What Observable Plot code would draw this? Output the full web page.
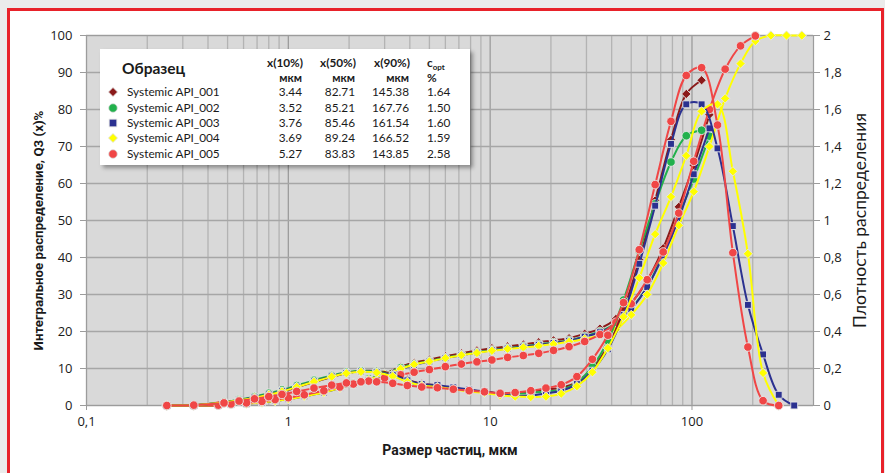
<!DOCTYPE html>
<html><head><meta charset="utf-8">
<script src="https://cdn.jsdelivr.net/npm/d3@7"></script>
<script src="https://cdn.jsdelivr.net/npm/@observablehq/plot@0.6"></script>
<style>
html,body{margin:0;padding:0;background:#ebebeb;width:885px;height:473px;overflow:hidden;}
#card{position:absolute;left:7px;top:8px;width:871px;height:480px;border:3px solid #e8222a;background:#fff;}
#chart{position:absolute;left:0;top:0;}
#legend{position:absolute;left:100px;top:49px;width:370px;height:116px;background:#fff;box-shadow:3px 3px 4px rgba(0,0,0,0.35);font-family:Lato,"Open Sans",sans-serif;color:#1a1a1a;}
#legend span{position:absolute;white-space:nowrap;line-height:14px;}
#legend svg{position:absolute;}
</style></head>
<body>
<div id="card"></div>
<div id="chart"></div>
<div id="legend"></div>
<script>
// ---- data ----
const seriesNames = ["Systemic API_001","Systemic API_002","Systemic API_003","Systemic API_004","Systemic API_005"];
const x10 = [3.44, 3.52, 3.76, 3.69, 5.27];
const x50 = [82.71, 85.21, 85.46, 89.24, 83.83];
const x90 = [145.38, 167.76, 161.54, 166.52, 143.85];
const copt = [1.64, 1.50, 1.60, 1.59, 2.58];

// particle size (µm): upper class edges (cumulative) and class centres (density)
const cumX = [0.25,0.34,0.45,0.52,0.62,0.74,0.86,1.0,1.2,1.5,1.8,2.1,2.5,3.0,3.6,4.2,5.0,6.0,7.2,8.6,10.2,12.2,14.6,17.4,20.6,24.6,29.4,35,42,50,60,72,86,102,122,146,174,206,246,294,350];
const denX = [0.25,0.34,0.48,0.57,0.68,0.80,0.93,1.1,1.34,1.64,1.94,2.29,2.74,3.29,3.89,4.58,5.48,6.57,7.87,9.37,11.2,13.3,15.9,18.9,22.5,26.9,32.1,38.3,45.8,54.8,65.7,78.7,93.7,111.6,133.8,159.4,189.3,225,269,321];

// cumulative Q3 (%)
const cum001 = [0,0,0.1,0.4,0.6,0.9,1.3,1.8,2.6,3.7,4.9,5.9,7.1,8.6,10.4,11.6,12.4,13.3,14.1,14.9,15.5,16.0,16.5,17.1,17.6,18.2,19.4,20.8,23.4,27.6,33.8,42.5,53.7,64.9,78.6];
const cum002 = [0,0,0.1,0.4,0.6,1.0,1.4,1.9,2.8,3.9,5.1,6.0,7.2,8.5,10.2,11.2,12.0,12.9,13.7,14.4,15.0,15.5,16.0,16.5,17.0,17.6,18.7,20.0,22.3,26.2,32.0,41.2,51.4,61.2,72.8];
const cum003 = [0,0,0.1,0.3,0.5,0.8,1.2,1.7,2.5,3.5,4.7,5.7,6.9,8.3,9.8,11.0,11.9,12.8,13.6,14.3,14.9,15.4,15.9,16.4,16.9,17.5,18.6,19.8,22.0,26.0,32.0,40.5,50.5,62.5,74.9];
const cum004 = [0,0,0.1,0.3,0.5,0.8,1.2,1.7,2.5,3.5,4.7,5.8,7.0,8.4,9.9,11.1,11.9,12.8,13.6,14.2,14.8,15.3,15.7,16.1,16.6,17.2,18.0,19.0,20.5,24.5,30.0,38.5,48.7,57.8,70.0,83.0,92.4,98.5,100,100,100];
const cum005 = [0,0,0.1,0.4,0.7,1.1,1.6,2.1,2.9,4.0,5.0,5.8,6.6,7.5,8.3,9.0,9.7,10.5,11.2,11.8,12.3,13.0,13.5,14.1,14.9,15.9,17.3,19.2,22.5,27.5,34.0,41.5,52.0,66.0,80.0,90.9,97.2,99.9];

// density distribution (right axis)
const den001 = [0,0.002,0.016,0.028,0.042,0.058,0.074,0.098,0.126,0.154,0.174,0.186,0.186,0.17,0.14,0.118,0.108,0.094,0.082,0.076,0.066,0.068,0.076,0.086,0.096,0.128,0.202,0.32,0.516,0.788,1.108,1.436,1.684,1.758];
const den002 = [0,0.002,0.018,0.032,0.048,0.066,0.084,0.108,0.136,0.162,0.18,0.188,0.184,0.164,0.13,0.108,0.1,0.09,0.08,0.072,0.064,0.064,0.068,0.076,0.086,0.124,0.21,0.35,0.57,0.836,1.09,1.316,1.458,1.488];
const den003 = [0,0.002,0.016,0.028,0.044,0.06,0.078,0.102,0.13,0.158,0.176,0.184,0.18,0.164,0.136,0.116,0.11,0.098,0.086,0.076,0.062,0.052,0.054,0.066,0.08,0.116,0.188,0.304,0.49,0.766,1.08,1.414,1.628,1.628,1.39,0.97,0.544,0.276,0.058,0];
const den004 = [0,0.002,0.016,0.028,0.042,0.058,0.076,0.1,0.128,0.156,0.174,0.182,0.178,0.158,0.128,0.108,0.1,0.088,0.076,0.068,0.056,0.048,0.046,0.048,0.064,0.104,0.18,0.31,0.48,0.69,0.926,1.128,1.35,1.59,1.628,1.266,0.82,0.176,0];
const den005 = [0,0.002,0.014,0.024,0.036,0.048,0.06,0.076,0.094,0.11,0.122,0.128,0.128,0.12,0.108,0.1,0.096,0.088,0.08,0.074,0.066,0.07,0.08,0.094,0.112,0.156,0.25,0.38,0.556,0.842,1.194,1.536,1.784,1.826,1.516,0.826,0.316,0.026,0];

const leftTicks = [0,10,20,30,40,50,60,70,80,90,100];
const xTicks = [0.1, 1, 10, 100];
const xTitle = "Размер частиц, мкм";
const yTitleLeft = "Интегральное распределение, Q3 (x)%";
const yTitleRight = "Плотность распределения";

// ---- styles ----
const colors = ["#8b1a1a", "#22b14c", "#2b3190", "#ffff00", "#f04646"];
const symbols = ["diamond2", "circle", "square", "diamond2", "circle"];
const cumSeries = [cum001, cum002, cum003, cum004, cum005];
const denSeries = [den001, den002, den003, den004, den005];

const boldFont = "Roboto,'Open Sans',sans-serif";
const comma = d => String(Math.round(d * 10) / 10).replace(".", ",");

// vertical log grid positions
const xGrid = [];
[0.1, 1, 10, 100].forEach(dec => { for (let k = 1; k <= 9; k++) { const v = +(k * dec).toPrecision(3); if (v <= 400) xGrid.push(v); } });
const xMinor = xGrid.filter(v => !xTicks.includes(v));

const lineMarks = [], dotMarks = [];
function addSeries(ys, xs, scale, i) {
  const rows = ys.map((v, j) => ({x: xs[j], y: v * scale}));
  lineMarks.push(Plot.line(rows, {x: "x", y: "y", stroke: colors[i], strokeWidth: 2, curve: "catmull-rom"}));
  const r = symbols[i] === "circle" ? 4.3 : symbols[i] === "square" ? 3.9 : 4.2;
  dotMarks.push(Plot.dot(rows, {x: "x", y: "y", fill: colors[i], symbol: () => symbols[i], r, stroke: "#e6e6e6", strokeWidth: 0.9}));
}
// primary (cumulative) first, then secondary (density) on top
cumSeries.forEach((s, i) => addSeries(s, cumX, 1, i));
denSeries.forEach((s, i) => addSeries(s, denX, 50, i));
const seriesMarks = [];
for (let i = 0; i < lineMarks.length; i++) { seriesMarks.push(lineMarks[i], dotMarks[i]); }

const chart = Plot.plot({
  width: 885, height: 473,
  marginLeft: 86, marginRight: 72, marginTop: 35, marginBottom: 68,
  x: {type: "log", domain: [0.1, 400]},
  y: {domain: [0, 100]},
  symbol: {type: "identity"},
  style: {background: "transparent", fontFamily: "'Open Sans',sans-serif", fontSize: "13px", color: "#1a1a1a", overflow: "visible"},
  marks: [
    Plot.frame({fill: "#d9d9d9"}),
    Plot.ruleX(xMinor, {stroke: "#b3b3b3", strokeWidth: 1.3}),
    Plot.ruleX(xTicks, {stroke: "#9c9c9c", strokeWidth: 1.3}),
    Plot.ruleY(leftTicks, {stroke: "#a6a6a6", strokeWidth: 1.3}),
    Plot.frame({stroke: "#9c9c9c", strokeWidth: 1}),
    Plot.axisY(leftTicks, {anchor: "left", tickSize: 6, tickPadding: 8, label: null, stroke: "#9c9c9c", fill: "#1a1a1a", fontSize: 13}),
    Plot.axisY(leftTicks, {anchor: "right", tickSize: 6, tickPadding: 4, label: null, tickFormat: d => comma(d / 50), stroke: "#9c9c9c", fill: "#1a1a1a", fontSize: 13}),
    Plot.axisX(xTicks, {anchor: "bottom", tickSize: 5, tickPadding: 6, label: null, tickFormat: d => String(d).replace(".", ","), stroke: "#9c9c9c", fill: "#1a1a1a", fontSize: 13}),
    ...seriesMarks,
    Plot.text([xTitle], {text: d => d, frameAnchor: "bottom", dy: 45, lineAnchor: "middle", textAnchor: "middle", fontFamily: boldFont, fontWeight: "bold", fontSize: 14, fill: "#1a1a1a"}),
    Plot.text([yTitleLeft], {text: d => d, frameAnchor: "left", dx: -48, dy: 10, rotate: -90, lineAnchor: "middle", textAnchor: "middle", fontFamily: boldFont, fontWeight: "bold", fontSize: 13.3, fill: "#1a1a1a"}),
    Plot.text([yTitleRight], {text: d => d, frameAnchor: "right", dx: 47, rotate: -90, lineAnchor: "middle", textAnchor: "middle", fontFamily: "Lato,'Open Sans',sans-serif", fontSize: 17.5, fill: "#1a1a1a"})
  ]
});
document.getElementById("chart").appendChild(chart);

// ---- legend table ----
const lg = document.getElementById("legend");
function span(txt, left, centerY, opts = {}) {
  const s = document.createElement("span");
  s.innerHTML = txt;
  s.style.top = (centerY - 7) + "px";
  if (opts.right !== undefined) { s.style.right = (370 - opts.right) + "px"; } else { s.style.left = left + "px"; }
  s.style.fontSize = (opts.size || 11.8) + "px";
  if (opts.bold) s.style.fontWeight = "bold";
  lg.appendChild(s);
}
span("Образец", 22, 19, {bold: true, size: 15.5});
span("x(10%)", 0, 14, {right: 203, bold: true});
span("мкм", 0, 29, {right: 202, bold: true, size: 11.5});
span("x(50%)", 0, 14, {right: 256, bold: true});
span("мкм", 0, 29, {right: 255, bold: true, size: 11.5});
span("x(90%)", 0, 14, {right: 310, bold: true});
span("мкм", 0, 29, {right: 309, bold: true, size: 11.5});
span("c<sub style='font-size:8px;line-height:0'>opt</sub>", 327, 14, {bold: true});
span("%", 327, 29, {bold: true});
const rowY = [43, 59, 74, 89, 105];
const shapes = [
  c => `<polygon points="6,1.5 10.5,6 6,10.5 1.5,6" fill="${c}" stroke="#ddd" stroke-width="0.8"/>`,
  c => `<circle cx="6" cy="6" r="4.3" fill="${c}" stroke="#ddd" stroke-width="0.8"/>`,
  c => `<rect x="2.2" y="2.2" width="7.6" height="7.6" fill="${c}" stroke="#ddd" stroke-width="0.8"/>`,
  c => `<polygon points="6,1.5 10.5,6 6,10.5 1.5,6" fill="${c}" stroke="#ddd" stroke-width="0.8"/>`,
  c => `<circle cx="6" cy="6" r="4.3" fill="${c}" stroke="#ddd" stroke-width="0.8"/>`
];
seriesNames.forEach((name, i) => {
  const y = rowY[i];
  const svg = document.createElementNS("http://www.w3.org/2000/svg", "svg");
  svg.setAttribute("width", 12); svg.setAttribute("height", 12);
  svg.style.left = "7px"; svg.style.top = (y - 6) + "px";
  svg.innerHTML = shapes[i](colors[i]);
  lg.appendChild(svg);
  span(name, 27, y);
  span(x10[i].toFixed(2), 0, y, {right: 202});
  span(x50[i].toFixed(2), 0, y, {right: 255});
  span(x90[i].toFixed(2), 0, y, {right: 309});
  span(copt[i].toFixed(2), 327, y);
});
</script>
</body></html>
